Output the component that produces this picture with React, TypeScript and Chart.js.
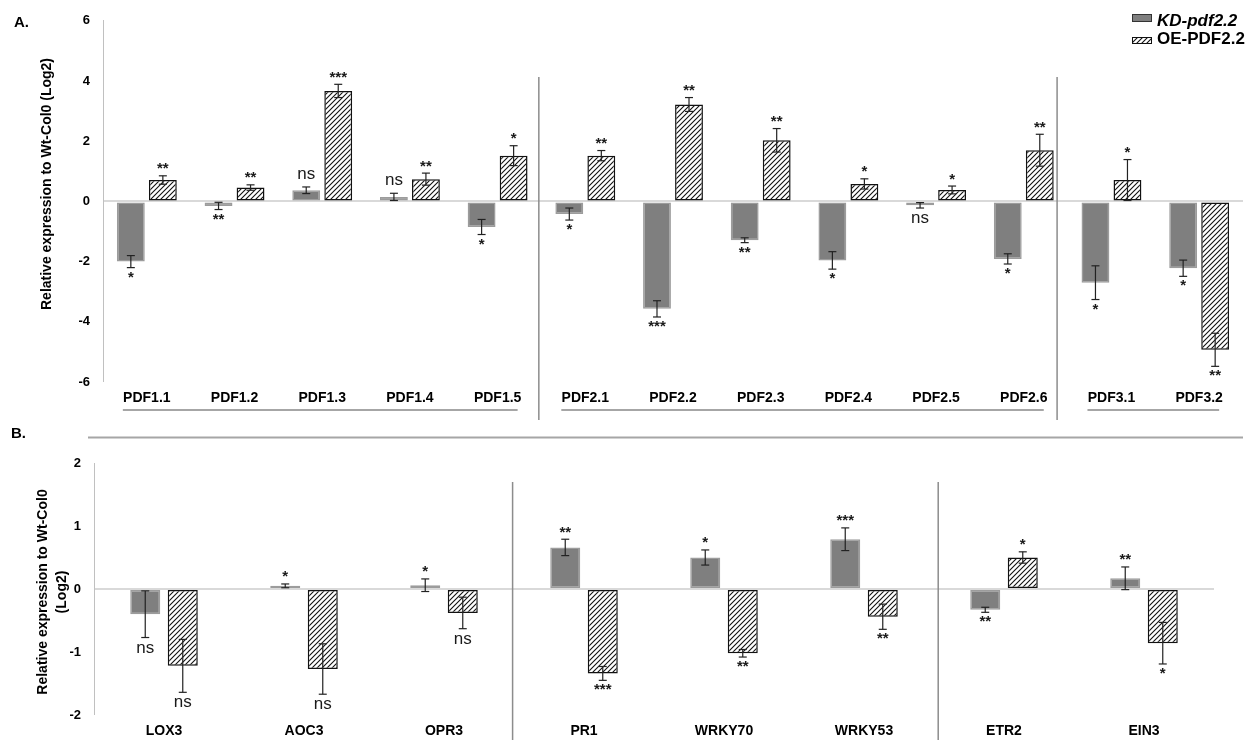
import React, { useEffect, useRef } from "react";
import { Chart, registerables } from "chart.js";
Chart.register(...registerables);

const FONT = "'Liberation Sans', Arial, Helvetica, sans-serif";

const seriesNames = ["KD-pdf2.2", "OE-PDF2.2"];

// ---------- Panel A ----------
const genesA = ["PDF1.1", "PDF1.2", "PDF1.3", "PDF1.4", "PDF1.5", "PDF2.1", "PDF2.2", "PDF2.3", "PDF2.4", "PDF2.5", "PDF2.6", "PDF3.1", "PDF3.2"];
const kdA = [-2.0, -0.15, 0.37, 0.15, -0.85, -0.42, -3.57, -1.29, -1.96, -0.13, -1.91, -2.7, -2.22];
const kdErrA = [0.2, 0.12, 0.11, 0.12, 0.25, 0.2, 0.27, 0.08, 0.29, 0.09, 0.17, 0.56, 0.27];
const kdSigA = ["*", "**", "ns", "ns", "*", "*", "***", "**", "*", "ns", "*", "*", "*"];
const oeA = [0.71, 0.46, 3.67, 0.74, 1.52, 1.52, 3.22, 2.03, 0.58, 0.38, 1.7, 0.71, -4.93];
const oeErrA = [0.14, 0.09, 0.22, 0.2, 0.33, 0.17, 0.23, 0.39, 0.17, 0.13, 0.53, 0.68, 0.55];
const oeSigA = ["**", "**", "***", "**", "*", "**", "**", "**", "*", "*", "**", "*", "**"];
const yRangeA = [-6, 6, 2];
const groupsA = [[0, 4], [5, 10], [11, 12]];
const sepA = [4.47, 10.38];

// ---------- Panel B ----------
const genesB = ["LOX3", "AOC3", "OPR3", "PR1", "WRKY70", "WRKY53", "ETR2", "EIN3"];
const kdB = [-0.4, 0.05, 0.06, 0.66, 0.5, 0.79, -0.33, 0.17];
const kdErrB = [0.37, 0.03, 0.1, 0.13, 0.12, 0.18, 0.04, 0.18];
const kdSigB = ["ns", "*", "*", "**", "*", "***", "**", "**"];
const oeB = [-1.22, -1.27, -0.38, -1.34, -1.02, -0.44, 0.5, -0.86];
const oeErrB = [0.42, 0.4, 0.25, 0.11, 0.06, 0.2, 0.09, 0.33];
const oeSigB = ["ns", "ns", "ns", "***", "**", "**", "*", "*"];
const yRangeB = [-2, 2, 1];
const sepB = [2.49, 5.53];

const yTitle = "Relative expression to Wt-Col0 (Log2)";
const yTitleB = ["Relative expression to Wt-Col0", "(Log2)"];

function makeHatch(): CanvasPattern | string {
  const c = document.createElement("canvas");
  c.width = 5;
  c.height = 5;
  const g = c.getContext("2d");
  if (!g) return "#999";
  g.fillStyle = "#fff";
  g.fillRect(0, 0, 5, 5);
  g.strokeStyle = "#111";
  g.lineWidth = 1.1;
  g.beginPath();
  g.moveTo(-1, 6);
  g.lineTo(6, -1);
  g.moveTo(-1, 1);
  g.lineTo(1, -1);
  g.moveTo(4, 6);
  g.lineTo(6, 4);
  g.stroke();
  return g.createPattern(c, "repeat") || "#999";
}

function line(ctx: CanvasRenderingContext2D, x1: number, y1: number, x2: number, y2: number) {
  ctx.beginPath();
  ctx.moveTo(x1, y1);
  ctx.lineTo(x2, y2);
  ctx.stroke();
}

type Params = {
  labels: string[];
  kd: number[];
  kdErr: number[];
  kdSig: string[];
  oe: number[];
  oeErr: number[];
  oeSig: string[];
  yRange: number[];
  yAxisWidth: number;
  xAxisHeight: number;
  padTop: number;
  padRight: number;
  cp: number;
  bp: number;
  decorate: (ctx: CanvasRenderingContext2D, chart: any) => void;
};

function makeChart(canvas: HTMLCanvasElement, p: Params, hatch: any) {
  const errs = [p.kdErr, p.oeErr];
  const sigs = [p.kdSig, p.oeSig];
  const errPlugin = {
    id: "errSig",
    afterDatasetsDraw(chart: any) {
      const ctx: CanvasRenderingContext2D = chart.ctx;
      const y = chart.scales.y;
      chart.data.datasets.forEach((ds: any, di: number) => {
        const meta = chart.getDatasetMeta(di);
        meta.data.forEach((bar: any, i: number) => {
          const v = ds.data[i] as number;
          const e = errs[di][i];
          const x = bar.x;
          const yHi = y.getPixelForValue(v + e);
          const yLo = y.getPixelForValue(v - e);
          ctx.save();
          ctx.strokeStyle = "#222";
          ctx.lineWidth = 1.2;
          line(ctx, x, yHi, x, yLo);
          line(ctx, x - 4, yHi, x + 4, yHi);
          line(ctx, x - 4, yLo, x + 4, yLo);
          const s = sigs[di][i];
          ctx.fillStyle = "#1a1a1a";
          ctx.textAlign = "center";
          ctx.textBaseline = "alphabetic";
          let base: number;
          if (s === "ns") {
            ctx.font = `17px ${FONT}`;
            base = v >= 0 ? yHi - 8 : yLo + 15;
          } else {
            ctx.font = `bold 15px ${FONT}`;
            base = v >= 0 ? yHi - 2.5 : yLo + 14;
          }
          ctx.fillText(s, x, base);
          ctx.restore();
        });
      });
    },
  };
  const decoPlugin = {
    id: "deco",
    afterDraw(chart: any) {
      const ctx: CanvasRenderingContext2D = chart.ctx;
      ctx.save();
      p.decorate(ctx, chart);
      ctx.restore();
    },
  };
  return new Chart(canvas, {
    type: "bar",
    data: {
      labels: p.labels,
      datasets: [
        {
          label: seriesNames[0],
          data: p.kd,
          backgroundColor: "#7f7f7f",
          borderColor: "#9c9c9c",
          borderWidth: 1.5,
          borderSkipped: false,
          categoryPercentage: p.cp,
          barPercentage: p.bp,
        },
        {
          label: seriesNames[1],
          data: p.oe,
          backgroundColor: hatch,
          borderColor: "#111",
          borderWidth: 1.5,
          borderSkipped: false,
          categoryPercentage: p.cp,
          barPercentage: p.bp,
        },
      ],
    },
    options: {
      responsive: false,
      animation: false,
      devicePixelRatio: 1,
      layout: { padding: { top: p.padTop, right: p.padRight, left: 0, bottom: 0 } },
      plugins: { legend: { display: false }, tooltip: { enabled: false } },
      scales: {
        x: {
          type: "category",
          offset: true,
          grid: { display: false, drawTicks: false },
          border: { display: false },
          ticks: {
            autoSkip: false,
            maxRotation: 0,
            padding: 8,
            color: "#000",
            font: { family: FONT, size: 14, weight: "bold" },
          },
          afterFit: (s: any) => {
            s.height = p.xAxisHeight;
          },
        },
        y: {
          min: p.yRange[0],
          max: p.yRange[1],
          ticks: {
            stepSize: p.yRange[2],
            padding: 13,
            color: "#000",
            font: { family: FONT, size: 13, weight: "bold" },
          },
          grid: {
            display: true,
            drawTicks: false,
            color: (c: any) => (c.tick && c.tick.value === 0 ? "#d9d9d9" : "rgba(0,0,0,0)"),
            lineWidth: (c: any) => (c.tick && c.tick.value === 0 ? 2 : 0),
          },
          border: { display: true, color: "#c0c0c0", width: 1 },
          afterFit: (s: any) => {
            s.width = p.yAxisWidth;
          },
        },
      },
    } as any,
    plugins: [errPlugin, decoPlugin],
  });
}

function catPixel(xs: any, f: number) {
  const i = Math.floor(f);
  const cw = xs.getPixelForValue(1) - xs.getPixelForValue(0);
  return xs.getPixelForValue(i) + (f - i) * cw;
}

export default function App() {
  const refA = useRef<HTMLCanvasElement>(null);
  const refB = useRef<HTMLCanvasElement>(null);

  useEffect(() => {
    const hatch = makeHatch();
    const chartA = makeChart(
      refA.current as HTMLCanvasElement,
      {
        labels: genesA,
        kd: kdA,
        kdErr: kdErrA,
        kdSig: kdSigA,
        oe: oeA,
        oeErr: oeErrA,
        oeSig: oeSigA,
        yRange: yRangeA,
        yAxisWidth: 103,
        xAxisHeight: 38,
        padTop: 15,
        padRight: 6,
        cp: 0.73,
        bp: 0.87,
        decorate: (ctx, chart) => {
          const xs = chart.scales.x;
          ctx.strokeStyle = "#8c8c8c";
          ctx.lineWidth = 1.5;
          sepA.forEach((f) => {
            const px = catPixel(xs, f);
            line(ctx, px, 77, px, 420);
          });
          ctx.strokeStyle = "#a6a6a6";
          ctx.lineWidth = 2;
          groupsA.forEach(([s, e]) => {
            line(ctx, xs.getPixelForValue(s) - 24, 410, xs.getPixelForValue(e) + 20, 410);
          });
          // y title
          ctx.fillStyle = "#000";
          ctx.font = `bold 14px ${FONT}`;
          ctx.textAlign = "center";
          ctx.textBaseline = "middle";
          ctx.save();
          ctx.translate(47, 184);
          ctx.rotate(-Math.PI / 2);
          ctx.fillText(yTitle, 0, 0);
          ctx.restore();
          // panel label
          ctx.textAlign = "left";
          ctx.textBaseline = "alphabetic";
          ctx.font = `bold 15px ${FONT}`;
          ctx.fillText("A.", 14, 27);
          // legend
          ctx.fillStyle = "#7f7f7f";
          ctx.fillRect(1132, 14, 19, 7);
          ctx.strokeStyle = "#333";
          ctx.lineWidth = 1;
          ctx.strokeRect(1132.5, 14.5, 19, 7);
          ctx.fillStyle = hatch as any;
          ctx.fillRect(1132, 37, 19, 6);
          ctx.strokeStyle = "#111";
          ctx.strokeRect(1132.5, 37.5, 19, 6);
          ctx.fillStyle = "#000";
          ctx.font = `italic bold 17px ${FONT}`;
          ctx.fillText(seriesNames[0], 1157, 25.5);
          ctx.font = `bold 17px ${FONT}`;
          ctx.fillText(seriesNames[1], 1157, 44);
        },
      },
      hatch
    );
    const chartB = makeChart(
      refB.current as HTMLCanvasElement,
      {
        labels: genesB,
        kd: kdB,
        kdErr: kdErrB,
        kdSig: kdSigB,
        oe: oeB,
        oeErr: oeErrB,
        oeSig: oeSigB,
        yRange: yRangeB,
        yAxisWidth: 94,
        xAxisHeight: 25,
        padTop: 43,
        padRight: 35,
        cp: 0.536,
        bp: 0.8,
        decorate: (ctx, chart) => {
          const xs = chart.scales.x;
          ctx.strokeStyle = "#8c8c8c";
          ctx.lineWidth = 1.5;
          sepB.forEach((f) => {
            const px = catPixel(xs, f);
            line(ctx, px, 62, px, 320);
          });
          ctx.strokeStyle = "#a6a6a6";
          ctx.lineWidth = 2;
          line(ctx, 88, 17.5, 1243, 17.5);
          ctx.fillStyle = "#000";
          ctx.font = `bold 14px ${FONT}`;
          ctx.textAlign = "center";
          ctx.textBaseline = "middle";
          ctx.save();
          ctx.translate(43, 172);
          ctx.rotate(-Math.PI / 2);
          ctx.fillText(yTitleB[0], 0, 0);
          ctx.fillText(yTitleB[1], 0, 19);
          ctx.restore();
          ctx.textAlign = "left";
          ctx.textBaseline = "alphabetic";
          ctx.font = `bold 15px ${FONT}`;
          ctx.fillText("B.", 11, 18);
        },
      },
      hatch
    );
    return () => {
      chartA.destroy();
      chartB.destroy();
    };
  }, []);

  return (
    <div style={{ position: "fixed", left: 0, top: 0, width: 1249, height: 740, background: "#fff" }}>
      <canvas
        ref={refA}
        width={1249}
        height={420}
        style={{ position: "absolute", left: 0, top: 0, width: 1249, height: 420, display: "block" }}
      />
      <canvas
        ref={refB}
        width={1249}
        height={320}
        style={{ position: "absolute", left: 0, top: 420, width: 1249, height: 320, display: "block" }}
      />
    </div>
  );
}
